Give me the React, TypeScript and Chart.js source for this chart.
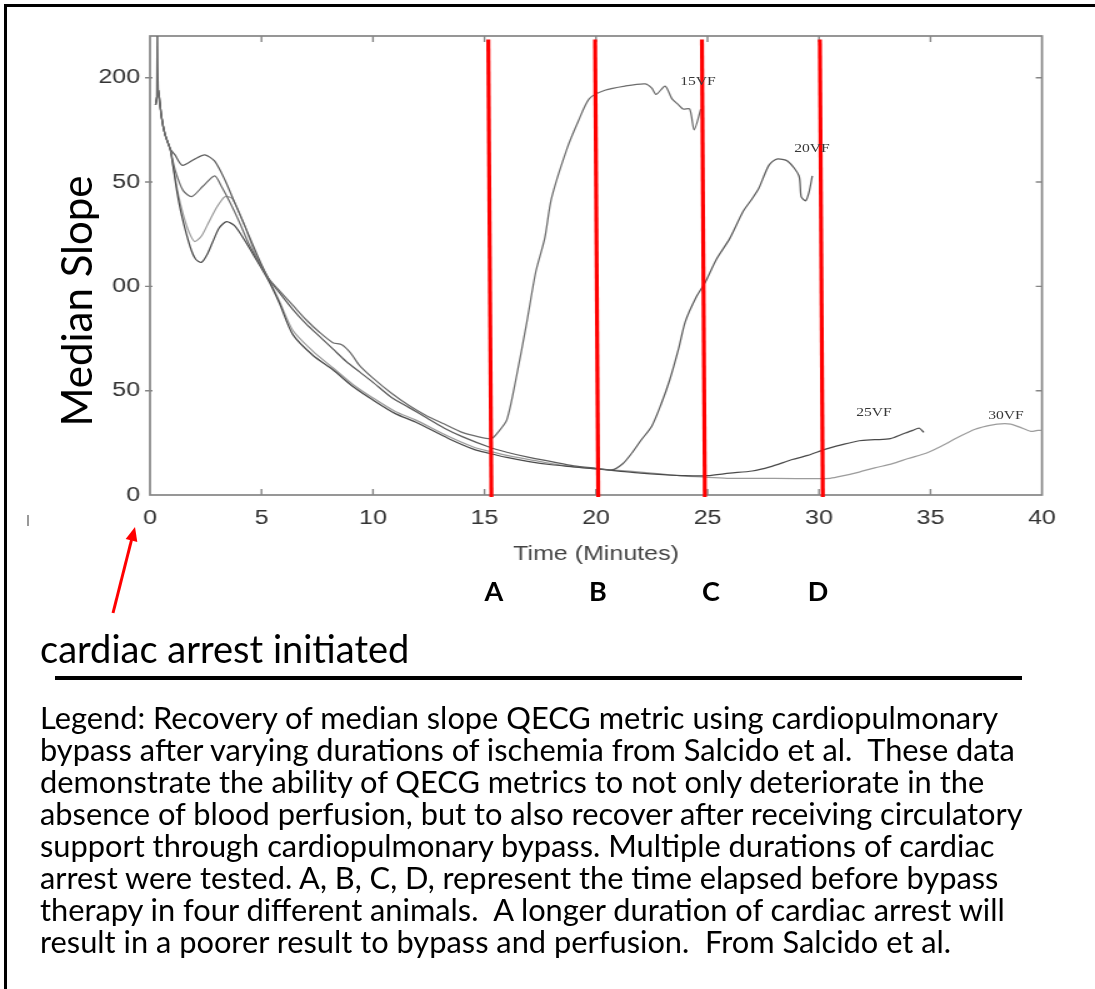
import React, { useEffect, useRef } from 'react';
import { Chart, registerables } from 'chart.js';

Chart.register(...registerables);

// ---------------- data ----------------
const xTickValues = [0, 5, 10, 15, 20, 25, 30, 35, 40];
const xTickLabels = ['0', '5', '10', '15', '20', '25', '30', '35', '40'];
const yTickValues = [0, 50, 100, 150, 200];
const yTickLabels = ['0', '50', '00', '50', '200'];

const seriesNames = ['15VF', '20VF', '25VF', '30VF'];

const t15VF = [0.25, 0.3, 0.33, 0.37, 0.52, 0.67, 0.9, 1.12, 1.48, 1.87, 2.37, 2.9, 3.2, 3.6, 4.0, 4.4, 4.8, 5.3, 5.8, 6.4, 7.0, 7.6, 8.2, 8.6, 9.0, 9.4, 10.0, 10.8, 11.6, 12.4, 13.2, 14.0, 14.7, 15.3, 15.6, 16.0, 16.4, 16.9, 17.3, 17.7, 18.0, 18.7, 19.2, 19.7, 20.4, 21.3, 22.2, 22.5, 22.7, 23.1, 23.4, 23.7, 23.9, 24.2, 24.4, 24.7];
const v15VF = [187, 190, 240, 194, 181, 173, 166, 156, 146, 143, 148, 153, 148, 140, 131, 121, 113, 104, 98, 91, 84, 78, 73, 72, 68, 62, 56, 49, 43, 38, 34, 30, 28, 27, 30, 36, 55, 83, 107, 123, 142, 166, 179, 190, 194, 196, 197, 195, 192, 196, 190, 187, 185, 185, 175, 185];

const t20VF = [0.25, 0.3, 0.37, 0.52, 0.67, 0.9, 1.12, 1.45, 2.0, 2.46, 2.9, 3.36, 3.8, 4.25, 4.85, 5.3, 5.8, 6.4, 7.0, 7.6, 8.2, 8.8, 9.4, 10.0, 10.8, 11.6, 12.4, 13.2, 14.0, 15.2, 16.0, 17.0, 18.0, 19.0, 20.0, 20.7, 21.2, 21.6, 22.0, 22.5, 22.9, 23.3, 23.7, 24.0, 24.5, 24.9, 25.4, 26.0, 26.6, 27.0, 27.3, 27.75, 28.1, 28.6, 29.1, 29.2, 29.4, 29.55, 29.7];
const v20VF = [187, 190, 194, 181, 173, 166, 163, 158, 161, 163, 160, 151, 140, 129, 114, 104, 97, 89, 82, 76, 70, 64, 59, 54, 47, 42, 37, 32, 28, 23, 20.5, 18, 16, 14, 12.8, 12, 15, 20, 26, 33, 43, 55, 70, 83, 95, 102, 113, 123, 136, 142, 147, 158, 161, 160, 153, 143, 141, 145, 153];

const t25VF = [0.25, 0.3, 0.37, 0.52, 0.67, 0.9, 1.0, 1.2, 1.42, 1.8, 2.05, 2.31, 2.55, 2.8, 3.1, 3.43, 3.8, 4.25, 4.7, 5.3, 5.8, 6.4, 7.3, 8.2, 9.1, 10.0, 11.0, 11.9, 13.4, 14.5, 15.2, 16.0, 17.0, 18.0, 19.0, 20.0, 21.0, 22.0, 23.0, 24.0, 25.0, 26.0, 27.0, 27.8, 28.8, 29.5, 30.3, 31.0, 31.8, 32.5, 33.2, 33.7, 34.2, 34.5, 34.7];
const v25VF = [187, 190, 194, 181, 173, 166, 160, 146, 134, 119, 113, 111.5, 115, 121, 128, 131, 129, 122, 114, 103, 92, 77, 67, 60, 52, 45.5, 39, 35, 27, 22, 20, 18, 16, 14.5, 13.5, 12.5, 11.5, 10.5, 9.8, 9.3, 9.3, 10.5, 11.5, 13.5, 17, 19, 22, 24, 26, 26.5, 27, 29, 31, 32, 30];

const t30VF = [0.25, 0.3, 0.37, 0.52, 0.67, 0.9, 1.0, 1.25, 1.5, 1.75, 2.0, 2.3, 2.6, 3.0, 3.36, 3.7, 4.25, 4.7, 5.3, 5.8, 6.4, 7.3, 8.2, 9.1, 10.0, 11.0, 11.9, 13.4, 14.5, 15.2, 16, 17, 18, 19, 20, 21, 22, 23, 24, 25, 26, 28, 30, 30.5, 31, 31.8, 32.5, 33.3, 34, 34.8, 35.5, 36.3, 37, 37.5, 38, 38.6, 39, 39.5, 39.8, 40];
const v30VF = [187, 190, 194, 181, 173, 166, 160, 145, 134, 126, 121.5, 124, 130, 138, 143, 142, 129, 116, 104, 93, 79, 69, 61, 53, 46.5, 40, 36, 28, 23, 21, 19, 17, 15, 13.5, 12.5, 11.8, 11, 10, 9, 8.5, 8, 8, 7.8, 8, 9, 11, 13, 15, 17.5, 20, 23.5, 28, 31.5, 33, 34, 34, 32.5, 30.5, 31, 31];

// bypass start markers (red lines)
const bypassNames = ['A', 'B', 'C', 'D'];
const bypassTopMinutes = [15.17, 19.96, 24.75, 30.04];
const bypassBottomMinutes = [15.31, 20.1, 24.88, 30.17];
const bypassTopValue = 218.3;
const bypassBottomValue = -1;

const captionLines = [
  'Legend: Recovery of median slope QECG metric using cardiopulmonary',
  'bypass after varying durations of ischemia from Salcido et al.  These data',
  'demonstrate the ability of QECG metrics to not only deteriorate in the',
  'absence of blood perfusion, but to also recover after receiving circulatory',
  'support through cardiopulmonary bypass. Multiple durations of cardiac',
  'arrest were tested. A, B, C, D, represent the time elapsed before bypass',
  'therapy in four different animals.  A longer duration of cardiac arrest will',
  'result in a poorer result to bypass and perfusion.  From Salcido et al.',
];

// ---------------- layout / style ----------------
const STRETCH = 1.25; // the original figure is horizontally stretched
const CANVAS_W = 876;
const CANVAS_H = 989;
const PLOT_LEFT = 150;
const PLOT_RIGHT = 1042;
const PLOT_TOP = 36;
const PLOT_BOTTOM = 495;
const XAXIS_H = 75;

const seriesColors = ['#6c6c6c', '#5c5c5c', '#4a4a4a', '#9c9c9c'];
const seriesLabelPos = [
  { x: 698, y: 81 },
  { x: 812, y: 148 },
  { x: 874, y: 412 },
  { x: 1006, y: 415 },
];
const bypassLabelX = [494, 598, 711, 818];

const tickFont = { family: '"Liberation Sans", Arial, sans-serif', size: 20 };

const framePlugin = {
  id: 'frameTicks',
  beforeDatasetsDraw(chart: any) {
    const { ctx, chartArea, scales } = chart;
    const { left, right, top, bottom } = chartArea;
    ctx.save();
    ctx.strokeStyle = '#858585';
    ctx.lineWidth = 1.7;
    ctx.strokeRect(left, top, right - left, bottom - top);
    ctx.lineWidth = 1.4;
    ctx.beginPath();
    xTickValues.forEach((v) => {
      if (v <= 0 || v >= 40) return;
      const px = scales.x.getPixelForValue(v);
      ctx.moveTo(px, bottom);
      ctx.lineTo(px, bottom - 6);
      ctx.moveTo(px, top);
      ctx.lineTo(px, top + 6);
    });
    yTickValues.forEach((v) => {
      if (v <= 0) return;
      const py = scales.y.getPixelForValue(v);
      ctx.moveTo(left - 4, py);
      ctx.lineTo(left + 2, py);
      ctx.moveTo(right, py);
      ctx.lineTo(right - 5, py);
    });
    ctx.stroke();
    ctx.restore();
  },
};

const toPoints = (t: number[], v: number[]) => t.map((x, i) => ({ x, y: v[i] }));

export default function App() {
  const canvasRef = useRef<HTMLCanvasElement | null>(null);

  useEffect(() => {
    const canvas = canvasRef.current;
    if (!canvas) return;
    const seriesT = [t15VF, t20VF, t25VF, t30VF];
    const seriesV = [v15VF, v20VF, v25VF, v30VF];

    const redSets = bypassNames.map((n, i) => ({
      label: n,
      data: [
        { x: bypassTopMinutes[i], y: bypassTopValue },
        { x: bypassBottomMinutes[i], y: bypassBottomValue },
      ],
      borderColor: '#ff0000',
      borderWidth: 4 / STRETCH,
      pointRadius: 0,
      clip: false as any,
    }));
    const graySets = seriesNames.map((n, i) => ({
      label: n,
      data: toPoints(seriesT[i], seriesV[i]),
      borderColor: seriesColors[i],
      borderWidth: 1.25,
      pointRadius: 0,
      tension: 0.25,
    }));

    const chart = new Chart(canvas, {
      type: 'line',
      data: { datasets: [...redSets, ...graySets] as any },
      options: {
        animation: false,
        responsive: false,
        devicePixelRatio: 1,
        events: [],
        layout: {
          padding: {
            left: 0,
            top: PLOT_TOP,
            right: CANVAS_W - PLOT_RIGHT / STRETCH,
            bottom: CANVAS_H - (PLOT_BOTTOM + XAXIS_H),
          },
        },
        plugins: {
          legend: { display: false },
          tooltip: { enabled: false },
        },
        scales: {
          x: {
            type: 'linear',
            min: 0,
            max: 40,
            afterBuildTicks: (s: any) => {
              s.ticks = xTickValues.map((v) => ({ value: v }));
            },
            afterFit: (s: any) => {
              s.height = XAXIS_H;
            },
            grid: { display: false, drawTicks: false },
            border: { display: false },
            ticks: {
              autoSkip: false,
              maxRotation: 0,
              padding: 11,
              color: '#333333',
              font: tickFont,
              callback: (v: any) => xTickLabels[xTickValues.indexOf(Number(v))],
            },
            title: {
              display: true,
              text: 'Time (Minutes)',
              color: '#444444',
              font: tickFont,
              padding: { top: 0, bottom: 4 },
            },
          },
          y: {
            type: 'linear',
            min: 0,
            max: 220,
            afterBuildTicks: (s: any) => {
              s.ticks = yTickValues.map((v) => ({ value: v }));
            },
            afterFit: (s: any) => {
              s.width = PLOT_LEFT / STRETCH;
            },
            grid: { display: false, drawTicks: false },
            border: { display: false },
            ticks: {
              padding: 8,
              color: '#333333',
              font: tickFont,
              callback: (v: any) => yTickLabels[yTickValues.indexOf(Number(v))],
            },
          },
        },
      } as any,
      plugins: [framePlugin],
    });
    return () => chart.destroy();
  }, []);

  const lato = 'Lato, "Open Sans", sans-serif';

  return (
    <div
      style={{
        position: 'absolute',
        left: 0,
        top: 0,
        width: 1095,
        height: 989,
        overflow: 'hidden',
        background: '#ffffff',
      }}
    >
      {/* outer frame: top and left edges */}
      <div style={{ position: 'absolute', left: 4, top: 4, width: 1091, height: 3, background: '#000' }} />
      <div style={{ position: 'absolute', left: 4, top: 4, width: 3, height: 985, background: '#000' }} />
      {/* stretched figure */}
      <div
        style={{
          position: 'absolute',
          left: 0,
          top: 0,
          width: CANVAS_W,
          height: CANVAS_H,
          transform: `scaleX(${STRETCH})`,
          transformOrigin: '0 0',
        }}
      >
        <canvas ref={canvasRef} width={CANVAS_W} height={CANVAS_H} style={{ display: 'block' }} />
        {seriesNames.map((n, i) => (
          <div
            key={n}
            style={{
              position: 'absolute',
              left: seriesLabelPos[i].x / STRETCH,
              top: seriesLabelPos[i].y,
              transform: 'translate(-50%, -50%)',
              fontFamily: '"Liberation Serif", serif',
              fontSize: 12.5,
              color: '#383838',
              whiteSpace: 'nowrap',
              lineHeight: 1,
            }}
          >
            {n}
          </div>
        ))}
      </div>
      {/* stray mark */}
      <div style={{ position: 'absolute', left: 27, top: 515, width: 1.5, height: 11, background: '#999' }} />
      {/* y axis title */}
      <div
        style={{
          position: 'absolute',
          left: 75.5 - 160,
          top: 300.5 - 25,
          width: 320,
          height: 50,
          lineHeight: '50px',
          textAlign: 'center',
          fontFamily: lato,
          fontSize: 42,
          color: '#000',
          whiteSpace: 'nowrap',
          transform: 'rotate(-90deg)',
        }}
      >
        Median Slope
      </div>
      {/* A B C D */}
      {bypassNames.map((n, i) => (
        <div
          key={n}
          style={{
            position: 'absolute',
            left: bypassLabelX[i],
            top: 590,
            transform: 'translate(-50%, -50%)',
            fontFamily: lato,
            fontWeight: 700,
            fontSize: 27,
            color: '#000',
            lineHeight: 1,
          }}
        >
          {n}
        </div>
      ))}
      {/* arrow */}
      <svg width={1095} height={989} style={{ position: 'absolute', left: 0, top: 0 }}>
        <line x1={113} y1={613} x2={131.5} y2={540} stroke="#ff0000" strokeWidth={3} />
        <polygon points="135,527 137.3,542.1 125.7,539.1" fill="#ff0000" />
      </svg>
      <div
        style={{
          position: 'absolute',
          left: 40,
          top: 648 - 25,
          height: 50,
          lineHeight: '50px',
          fontFamily: lato,
          fontSize: 38,
          color: '#000',
          whiteSpace: 'nowrap',
        }}
      >
        cardiac arrest initiated
      </div>
      {/* separator */}
      <div style={{ position: 'absolute', left: 55, top: 676, width: 967, height: 4, background: '#000' }} />
      {/* caption */}
      <div style={{ position: 'absolute', left: 40, top: 702 }}>
        {captionLines.map((l, i) => (
          <div
            key={i}
            style={{
              height: 32,
              lineHeight: '32px',
              fontFamily: lato,
              fontSize: 30.8,
              color: '#000',
              whiteSpace: 'pre',
            }}
          >
            {l}
          </div>
        ))}
      </div>
    </div>
  );
}
